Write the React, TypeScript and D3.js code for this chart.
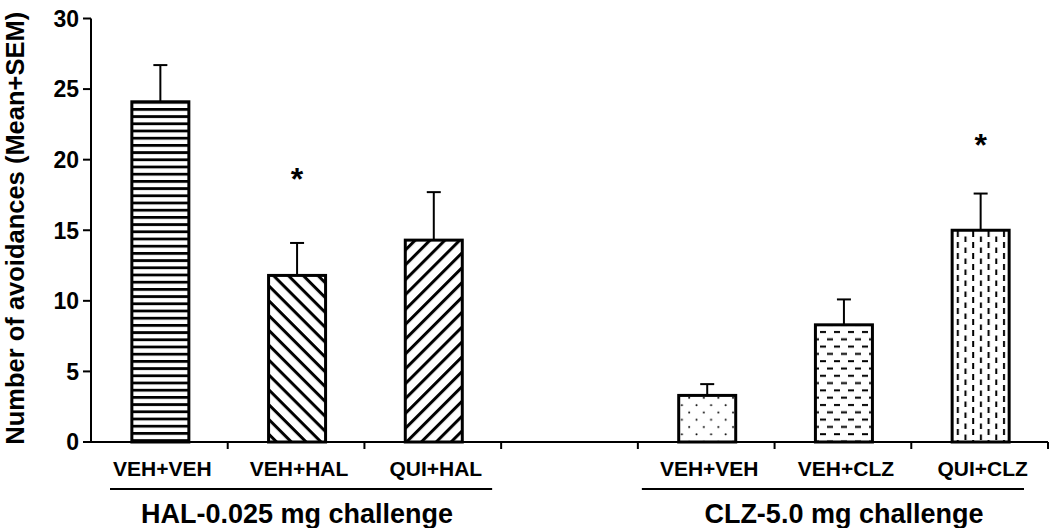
import React from 'react';
import * as d3 from 'd3';

// bar data
const slots = ['h1', 'h2', 'h3', 'gap', 'c1', 'c2', 'c3'];
const barSlots = ['h1', 'h2', 'h3', 'c1', 'c2', 'c3'];
const barLabels = ['VEH+VEH', 'VEH+HAL', 'QUI+HAL', 'VEH+VEH', 'VEH+CLZ', 'QUI+CLZ'];
const means = [24.1, 11.8, 14.3, 3.3, 8.3, 15.0];
const sems = [2.6, 2.3, 3.4, 0.8, 1.8, 2.6];
const fills = ['hlines', 'diagDown', 'diagUp', 'dots', 'hdash', 'vdash'];
const starAt = [null, 19.1, null, null, null, 21.5];

const groups = [
  { title: 'HAL-0.025 mg challenge', first: 'h1', last: 'h3', padL: 19, padR: 9 },
  { title: 'CLZ-5.0 mg challenge', first: 'c1', last: 'c3', padL: 4, padR: 24 },
];

const yTicks = [0, 5, 10, 15, 20, 25, 30];

const W = 1050;
const H = 528;
const font = '"Liberation Sans", Arial, Helvetica, sans-serif';

export default function App() {
  const x = d3.scaleBand<string>().domain(slots).range([91, 1048]).padding(0);
  const y = d3.scaleLinear().domain([0, 30]).range([442, 18.5]);
  const barW = 57;
  const y0 = y(0);

  return (
    <svg width={W} height={H} style={{ position: 'absolute', left: 0, top: 0, background: '#fff' }}
      fontFamily={font}>
      <defs>
        <pattern id="hlines" patternUnits="userSpaceOnUse" width={10} height={7.2}>
          <rect x={0} y={0} width={10} height={2.8} fill="#000" />
        </pattern>
        <pattern id="diagDown" patternUnits="userSpaceOnUse" width={10} height={10.5}
          patternTransform="rotate(45)">
          <rect x={0} y={0} width={10} height={3} fill="#000" />
        </pattern>
        <pattern id="diagUp" patternUnits="userSpaceOnUse" width={10} height={10.5}
          patternTransform="rotate(-45)">
          <rect x={0} y={0} width={10} height={3} fill="#000" />
        </pattern>
        <pattern id="dots" patternUnits="userSpaceOnUse" width={14.6} height={14.6}>
          <circle cx={3} cy={3.6} r={1} fill="#000" />
          <circle cx={10.3} cy={10.9} r={1} fill="#000" />
        </pattern>
        <pattern id="hdash" patternUnits="userSpaceOnUse" width={14} height={14.6}>
          <rect x={1} y={2.5} width={6} height={2} fill="#000" />
          <rect x={8} y={9.8} width={6} height={2} fill="#000" />
        </pattern>
        <pattern id="vdash" patternUnits="userSpaceOnUse" width={15.4} height={11}>
          <rect x={2} y={0} width={2} height={6} fill="#000" />
          <rect x={9.7} y={5.5} width={2} height={6} fill="#000" />
        </pattern>
      </defs>

      {/* y axis */}
      <line x1={91} x2={91} y1={y(30)} y2={y0 + 1} stroke="#000" strokeWidth={2} />
      {yTicks.map(t => (
        <g key={t}>
          <line x1={83} x2={91} y1={y(t)} y2={y(t)} stroke="#000" strokeWidth={2} />
          <text x={79} y={y(t)} dy="0.36em" textAnchor="end" fontSize={23} fontWeight="bold">{t}</text>
        </g>
      ))}
      <text transform={`translate(24, ${(y(30) + y0) / 2 - 2}) rotate(-90)`} textAnchor="middle"
        fontSize={25.5} fontWeight="bold">Number of avoidances (Mean+SEM)</text>

      {/* x axis */}
      <line x1={90} x2={1048} y1={y0} y2={y0} stroke="#000" strokeWidth={2} />
      {slots.slice(1).concat(['end']).map((s, i) => {
        const xx = s === 'end' ? x.range()[1] : (x(s) as number);
        return <line key={i} x1={xx} x2={xx} y1={y0} y2={y0 + 7} stroke="#000" strokeWidth={2} />;
      })}

      {/* bars */}
      {barSlots.map((s, i) => {
        const cx = (x(s) as number) + x.bandwidth() / 2 + 1;
        const top = y(means[i]);
        const errTop = y(means[i] + sems[i]);
        return (
          <g key={s}>
            <line x1={cx} x2={cx} y1={top} y2={errTop} stroke="#000" strokeWidth={2} />
            <line x1={cx - 7} x2={cx + 7} y1={errTop} y2={errTop} stroke="#000" strokeWidth={2} />
            <rect x={cx - barW / 2} y={top} width={barW} height={y0 - top}
              fill={`url(#${fills[i]})`} stroke="#000" strokeWidth={3} />
            <text x={cx + 2} y={476} textAnchor="middle" fontSize={21} fontWeight="bold">{barLabels[i]}</text>
            {starAt[i] != null && (
              <text x={cx} y={y(starAt[i] as number) + 18} textAnchor="middle" fontSize={32}
                fontWeight="bold">*</text>
            )}
          </g>
        );
      })}

      {/* group brackets */}
      {groups.map(g => {
        const a = (x(g.first) as number) + g.padL;
        const b = (x(g.last) as number) + x.bandwidth() - g.padR;
        const c1 = (x(g.first) as number) + x.bandwidth() / 2;
        const c3 = (x(g.last) as number) + x.bandwidth() / 2;
        return (
          <g key={g.title}>
            <line x1={a} x2={b} y1={489} y2={489} stroke="#000" strokeWidth={2} />
            <text x={(c1 + c3) / 2 + 1} y={523} textAnchor="middle" fontSize={27} fontWeight="bold">{g.title}</text>
          </g>
        );
      })}
    </svg>
  );
}
